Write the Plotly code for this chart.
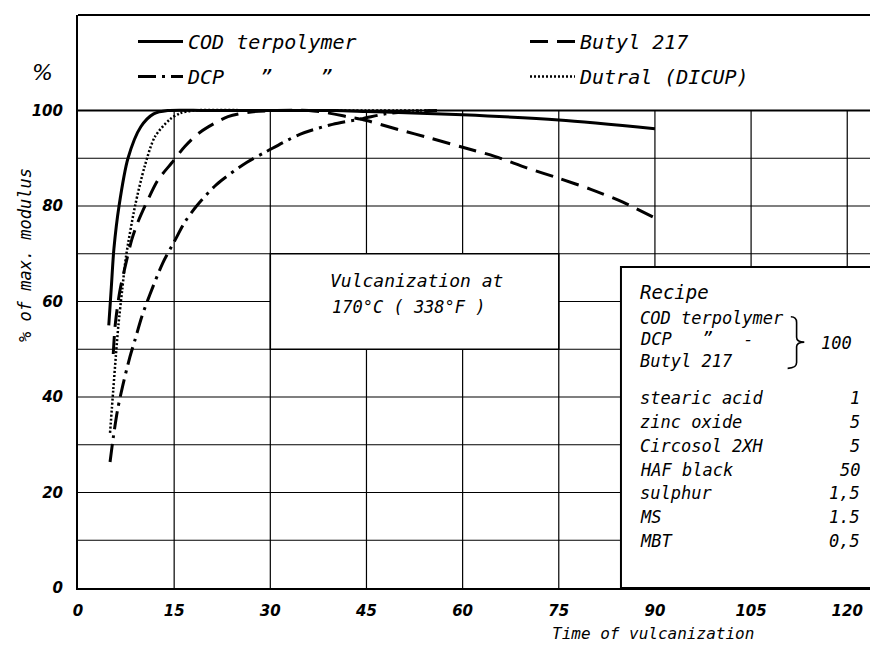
import plotly.graph_objects as go

# ---------------- data ----------------
cod_t = [4.8, 5.2, 5.6, 6.4, 7.8, 9.8, 11.8, 14, 20, 30, 40, 45, 50, 60, 75, 90]
cod_v = [55, 63, 71, 80, 90, 96.6, 99.3, 100, 100, 100, 100, 99.8, 99.6, 99.1, 98.0, 96.2]

dcp_t = [5.0, 5.5, 6.2, 7.0, 8.1, 8.9, 10.0, 11.2, 13.2, 15.0, 16.7, 18.5, 21.6,
         26.3, 29.4, 34.6, 39.7, 44.4, 48, 52, 56]
dcp_v = [26.4, 31.5, 37.5, 42.5, 48.4, 52, 57, 61.4, 68, 72.5, 76.7, 80, 84.5,
         89.1, 91.4, 95, 97.1, 98.3, 99.3, 99.8, 100]

butyl_t = [5.5, 5.8, 6.5, 7.3, 8.4, 9.3, 10.9, 12.5, 14.6, 16.7, 19, 23.4, 27, 31, 36,
           39, 42, 45, 50, 55, 60, 65, 70, 75, 80, 85, 90]
butyl_v = [49, 55, 62, 67, 73, 76.5, 81.3, 85.5, 89, 92.5, 95.4, 98.7, 99.7, 100, 100,
           99.5, 98.7, 97.9, 96, 94.2, 92.3, 90.4, 88, 85.8, 83.5, 80.8, 77.5]

dutral_t = [5.0, 5.5, 5.9, 6.3, 6.9, 7.5, 8.9, 10.4, 12, 14.3, 15.9, 18, 30, 45, 55]
dutral_v = [32.5, 41.5, 48.5, 55, 62.5, 69.5, 80, 88.3, 94.5, 98.1, 99.4, 100, 100, 100, 100]

x_ticks = [0, 15, 30, 45, 60, 75, 90, 105, 120]
y_ticks = [0, 20, 40, 60, 80, 100]

NB = "\u00a0"
series_names = ["COD terpolymer", "DCP" + NB * 3 + "\u201d" + NB * 4 + "\u201d",
                "Butyl 217", "Dutral (DICUP)"]

recipe_polymers = ["COD terpolymer", "DCP" + NB * 3 + "\u201d" + NB * 3 + "-", "Butyl 217"]
recipe_polymer_parts = "100"
recipe_items = ["stearic acid", "zinc oxide", "Circosol 2XH", "HAF black", "sulphur", "MS", "MBT"]
recipe_parts = ["1", "5", "5", "50", "1,5", "1.5", "0,5"]

# ---------------- styling ----------------
FONT = "DejaVu Sans Mono"


def tfont(size):
    return dict(family=FONT, size=size, color="black", style="italic")


tick_font = dict(family="DejaVu Sans", size=15, color="black", style="italic", weight="bold")

XMAX = 123.55
YMAX = 120
# plot area in pixels (for placing free text outside the axes)
PL, PB, PW, PH = 78, 588, 792, 573


def px_x(px):
    return (px - PL) / PW


def px_y(py):
    return (PB - py) / PH


fig = go.Figure()

fig.add_trace(go.Scatter(x=cod_t, y=cod_v, name=series_names[0], mode="lines",
                         line=dict(color="black", width=3, shape="spline", smoothing=0.8),
                         legend="legend", legendgroup="a"))
fig.add_trace(go.Scatter(x=dcp_t, y=dcp_v, name=series_names[1], mode="lines",
                         line=dict(color="black", width=3, dash="18px,6px,3px,6px",
                                   shape="spline", smoothing=0.8),
                         legend="legend", legendgroup="b"))
fig.add_trace(go.Scatter(x=butyl_t, y=butyl_v, name=series_names[2], mode="lines",
                         line=dict(color="black", width=3, dash="18px,9px",
                                   shape="spline", smoothing=0.8),
                         legend="legend2", legendgroup="c"))
fig.add_trace(go.Scatter(x=dutral_t, y=dutral_v, name=series_names[3], mode="lines",
                         line=dict(color="black", width=2.5, dash="2px,2px",
                                   shape="spline", smoothing=0.8),
                         legend="legend2", legendgroup="d"))

shapes = []
grid_line = dict(color="black", width=1.2)
# horizontal grid lines
for v in range(10, 101, 10):
    shapes.append(dict(type="line", xref="paper", yref="y", x0=0, x1=1, y0=v, y1=v,
                       line=dict(color="black", width=2 if v == 100 else 1.2), layer="below"))
# vertical grid lines (only inside the 0-100 field)
for t in x_ticks[1:]:
    shapes.append(dict(type="line", xref="x", yref="y", x0=t, x1=t, y0=0, y1=100,
                       line=grid_line, layer="below"))
# top frame
shapes.append(dict(type="line", xref="paper", yref="paper", x0=0, x1=1, y0=1, y1=1,
                   line=dict(color="black", width=2), layer="below"))
# vulcanization text box
shapes.append(dict(type="rect", xref="x", yref="y", x0=30, x1=75, y0=50, y1=70,
                   fillcolor="white", line=dict(color="black", width=1.5), layer="below"))
# recipe box
shapes.append(dict(type="rect", xref="x", yref="y", x0=84.7, x1=XMAX + 5, y0=0, y1=67.2,
                   fillcolor="white", line=dict(color="black", width=2), layer="below"))
# brace for the three polymers
bx0, bx1, bx2 = 111.2, 112.1, 113.3
byt, bym, byb = 56.8, 51.5, 46.0
brace = (f"M {bx0},{byt} Q {bx1},{byt} {bx1},{byt-1.2} L {bx1},{bym+1.0} "
         f"Q {bx1},{bym} {bx2},{bym} Q {bx1},{bym} {bx1},{bym-1.0} "
         f"L {bx1},{byb+1.2} Q {bx1},{byb} {bx0 - 0.5},{byb}")
shapes.append(dict(type="path", xref="x", yref="y", path=brace,
                   line=dict(color="black", width=1.6)))

annotations = []
# Vulcanization note
annotations.append(dict(x=39.0, y=64.5, xref="x", yref="y", text="Vulcanization at",
                        showarrow=False, xanchor="left", yanchor="middle", font=tfont(18)))
annotations.append(dict(x=39.3, y=58.8, xref="x", yref="y", text="170°C ( 338°F )",
                        showarrow=False, xanchor="left", yanchor="middle", font=tfont(17)))
# Recipe
annotations.append(dict(x=87.4, y=62.0, xref="x", yref="y", text="Recipe",
                        showarrow=False, xanchor="left", yanchor="middle", font=tfont(19)))
poly_y = [56.5, 52.1, 47.5]
for name, yy in zip(recipe_polymers, poly_y):
    annotations.append(dict(x=87.4, y=yy, xref="x", yref="y", text=name,
                            showarrow=False, xanchor="left", yanchor="middle", font=tfont(17)))
annotations.append(dict(x=121.0, y=51.3, xref="x", yref="y", text=recipe_polymer_parts,
                        showarrow=False, xanchor="right", yanchor="middle", font=tfont(17)))
for i, (name, part) in enumerate(zip(recipe_items, recipe_parts)):
    yy = 39.8 - i * 5.0
    annotations.append(dict(x=87.4, y=yy, xref="x", yref="y", text=name,
                            showarrow=False, xanchor="left", yanchor="middle", font=tfont(17)))
    annotations.append(dict(x=122.3, y=yy, xref="x", yref="y", text=part,
                            showarrow=False, xanchor="right", yanchor="middle", font=tfont(17)))
# axis titles (paper-referenced so they may sit outside the axes)
annotations.append(dict(x=px_x(653), y=px_y(634), xref="paper", yref="paper",
                        text="Time of vulcanization", showarrow=False,
                        xanchor="center", yanchor="middle", font=tfont(16)))
annotations.append(dict(x=px_x(25), y=px_y(255), xref="paper", yref="paper",
                        text="% of max. modulus", showarrow=False,
                        xanchor="center", yanchor="middle", textangle=-90, font=tfont(17)))
annotations.append(dict(x=px_x(42), y=px_y(72), xref="paper", yref="paper", text="%",
                        showarrow=False, xanchor="center", yanchor="middle",
                        font=dict(family="DejaVu Sans", size=22, color="black", style="italic")))

legend_common = dict(font=tfont(20), bgcolor="rgba(0,0,0,0)", borderwidth=0,
                     itemwidth=45, tracegroupgap=6, orientation="v",
                     xanchor="left", yanchor="top", itemclick=False, itemdoubleclick=False)

fig.update_layout(
    width=870, height=645,
    margin=dict(l=PL, r=0, t=15, b=57),
    plot_bgcolor="white", paper_bgcolor="white",
    showlegend=True,
    legend=dict(x=px_x(133), y=px_y(22), **legend_common),
    legend2=dict(x=px_x(525), y=px_y(22), **legend_common),
    xaxis=dict(range=[0, XMAX], tickvals=x_ticks, ticktext=[str(v) for v in x_ticks],
               showgrid=False, zeroline=False, showline=True, linecolor="black", linewidth=2,
               ticks="", ticklabelstandoff=8, tickfont=tick_font, fixedrange=True),
    yaxis=dict(range=[0, YMAX], tickvals=y_ticks, ticktext=[str(v) for v in y_ticks],
               showgrid=False, zeroline=False, showline=True, linecolor="black", linewidth=2,
               ticks="", ticklabelstandoff=10, tickfont=tick_font, fixedrange=True),
    shapes=shapes,
    annotations=annotations,
)

fig.write_html("out.html")
